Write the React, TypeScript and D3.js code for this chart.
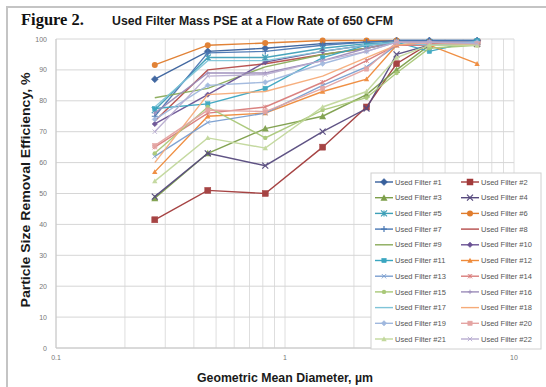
import React from "react";
import * as d3 from "d3";

const diameters = [0.27, 0.46, 0.82, 1.46, 2.27, 3.07, 4.27, 6.9];

const seriesNames = Array.from({ length: 22 }, (_, i) => `Used Filter #${i + 1}`);

const f1 = [87, 96, 97, 98.5, 99, 99.5, 99.5, 99.5];
const f2 = [41.5, 51, 50, 65, 78, 92, 98.5, 99];
const f3 = [48.5, 63, 71, 75, 82, 90, 98, 98.5];
const f4 = [49, 63, 59, 70, 77.5, 95, 98, 98.5];
const f5 = [77, 94, 94, 97, 98.5, 99, 99, 99];
const f6 = [91.6, 98, 98.7, 99.5, 99.5, 99.5, 99, 99];
const f7 = [75, 95.5, 96, 98, 99, 99.5, 99.5, 99.5];
const f8 = [73.5, 90, 92, 95, 97, 99, 99, 99];
const f9 = [81, 84, 91, 95, 97, 99, 99, 99];
const f10 = [72.5, 82, 92.5, 96, 98, 99, 99, 99];
const f11 = [77.5, 79, 84, 94, 98, 99, 96, 99.5];
const f12 = [57, 75, 76, 83, 87, 98, 98, 92];
const f13 = [62, 73, 76, 85, 91, 98, 98, 98.5];
const f14 = [65, 76, 78, 86, 93, 98, 98, 98];
const f15 = [63, 78, 68, 77, 81, 89, 97, 98];
const f16 = [76, 89, 89, 93, 97, 99, 99, 99];
const f17 = [78, 93, 93, 96, 98, 99, 98, 99];
const f18 = [60, 82, 83, 88, 94, 98, 99, 98];
const f19 = [74, 85, 86, 92, 96, 99, 99, 99];
const f20 = [65.5, 77, 76.5, 84, 90.3, 99, 98.5, 98.4];
const f21 = [54, 68, 64.7, 78, 83, 94, 98, 98];
const f22 = [70, 88, 88.5, 93, 96, 99, 99, 98.5];

const seriesValues = [f1, f2, f3, f4, f5, f6, f7, f8, f9, f10, f11, f12, f13, f14, f15, f16, f17, f18, f19, f20, f21, f22];

const seriesColors = [
  "#38609c", "#a23a3a", "#7d9f4a", "#574a7e", "#3fa0b8", "#e07c2c",
  "#4a78b4", "#b54c4a", "#8aab5a", "#6a5294", "#3aa6c0", "#ef8a3a",
  "#7b9fd0", "#d97c7a", "#a9c878", "#9c8cba", "#7fc4d8", "#f6ab78",
  "#a0b8de", "#e4a4a2", "#c2d89c", "#b8acd0",
];

const markerCycle = ["diamond", "square", "triangle", "x", "star", "circle", "plus", "none", "none"];

const yTicks = [0, 10, 20, 30, 40, 50, 60, 70, 80, 90, 100];
const xTickLabels = [0.1, 1, 10];

function Marker({ kind, x, y, color, small }: { kind: string; x: number; y: number; color: string; small?: boolean }) {
  const s = small ? 2.2 : 3;
  const sw = small ? 0.9 : 1.2;
  switch (kind) {
    case "diamond":
      return <path d={`M${x},${y - s - 0.5}L${x + s + 0.5},${y}L${x},${y + s + 0.5}L${x - s - 0.5},${y}Z`} fill={color} stroke={color} strokeWidth={0.5} />;
    case "square":
      return <rect x={x - s} y={y - s} width={2 * s} height={2 * s} fill={color} stroke={color} strokeWidth={0.5} />;
    case "triangle":
      return <path d={`M${x},${y - s - 0.5}L${x + s + 0.5},${y + s}L${x - s - 0.5},${y + s}Z`} fill={color} />;
    case "x":
      return <path d={`M${x - s},${y - s}L${x + s},${y + s}M${x - s},${y + s}L${x + s},${y - s}`} stroke={color} strokeWidth={sw} fill="none" />;
    case "star":
      return <path d={`M${x - s},${y - s}L${x + s},${y + s}M${x - s},${y + s}L${x + s},${y - s}M${x},${y - s}L${x},${y + s}`} stroke={color} strokeWidth={sw} fill="none" />;
    case "circle":
      return <circle cx={x} cy={y} r={s} fill={color} />;
    case "plus":
      return <path d={`M${x - s},${y}L${x + s},${y}M${x},${y - s}L${x},${y + s}`} stroke={color} strokeWidth={sw} fill="none" />;
    default:
      return null;
  }
}

export default function App() {
  const W = 546, H = 387;
  const x = d3.scaleLog().domain([0.1, 10]).range([56, 514]);
  const y = d3.scaleLinear().domain([0, 100]).range([348, 39]);

  const minorX: number[] = [];
  for (let d = 1; d <= 10; d++) minorX.push(d / 10);
  for (let d = 2; d <= 10; d++) minorX.push(d);

  const line = d3
    .line<number>()
    .x((_, i) => x(diameters[i]))
    .y((v) => y(v));

  const legX = 371, legY = 173, legW = 170, legH = 176;
  const rowH = 15.7;

  return (
    <svg width={W} height={H} style={{ position: "absolute", left: 0, top: 0, background: "#fff" }} fontFamily="Liberation Sans, Arial, sans-serif">
      <rect x={0} y={0} width={W} height={H} fill="#fff" />
      <line x1={6} y1={7} x2={W} y2={7} stroke="#c4c4c4" strokeWidth={2} />
      <line x1={7} y1={6} x2={7} y2={H} stroke="#c4c4c4" strokeWidth={2} />

      <text x={21} y={25} fontFamily="Liberation Serif, Times New Roman, serif" fontWeight="bold" fontSize={16.5} fill="#111">Figure 2.</text>
      <text x={112} y={25} fontWeight="bold" fontSize={12} fill="#1a1a1a" textLength={281} lengthAdjust="spacingAndGlyphs">Used Filter Mass PSE at a Flow Rate of 650 CFM</text>

      {minorX.map((d, i) => (
        <line key={"gx" + i} x1={x(d)} x2={x(d)} y1={y(100)} y2={y(0)} stroke="#dedede" strokeWidth={1} />
      ))}
      {yTicks.map((t) => (
        <line key={"gy" + t} x1={x(0.1)} x2={x(10)} y1={y(t)} y2={y(t)} stroke="#d6d6d6" strokeWidth={1} />
      ))}
      <line x1={x(0.1)} x2={x(0.1)} y1={y(100)} y2={y(0)} stroke="#c8c8c8" strokeWidth={1} />
      <line x1={x(0.1)} x2={x(10)} y1={y(0)} y2={y(0)} stroke="#c8c8c8" strokeWidth={1} />

      {yTicks.map((t) => (
        <text key={"yt" + t} x={47} y={y(t) + 2.5} textAnchor="end" fontSize={7} fill="#777">{t}</text>
      ))}
      {xTickLabels.map((t) => (
        <text key={"xt" + t} x={x(t)} y={360} textAnchor="middle" fontSize={7} fill="#777">{t}</text>
      ))}

      <text transform={`translate(30,190) rotate(-90)`} textAnchor="middle" fontWeight="bold" fontSize={13} fill="#1a1a1a" textLength={235} lengthAdjust="spacingAndGlyphs">Particle Size Removal Efficiency, %</text>
      <text x={285} y={382} textAnchor="middle" fontWeight="bold" fontSize={12} fill="#1a1a1a" textLength={176} lengthAdjust="spacingAndGlyphs">Geometric Mean Diameter, µm</text>

      {seriesValues.map((vals, si) => (
        <g key={"s" + si} opacity={0.95}>
          <path d={line(vals) || ""} fill="none" stroke={seriesColors[si]} strokeWidth={1.4} />
          {vals.map((v, i) => (
            <Marker key={i} kind={markerCycle[si % 9]} x={x(diameters[i])} y={y(v)} color={seriesColors[si]} small={si >= 9} />
          ))}
        </g>
      ))}

      <rect x={legX} y={legY} width={legW} height={legH} fill="#fff" stroke="#d0d0d0" strokeWidth={1} />
      {seriesNames.map((name, si) => {
        const col = si % 2;
        const row = Math.floor(si / 2);
        const lx = col === 0 ? 375 : 461;
        const ly = 182 + row * rowH;
        return (
          <g key={"l" + si}>
            <line x1={lx} x2={lx + 18} y1={ly} y2={ly} stroke={seriesColors[si]} strokeWidth={1.4} />
            <Marker kind={markerCycle[si % 9]} x={lx + 9} y={ly} color={seriesColors[si]} small={si >= 9} />
            <text x={lx + 20} y={ly + 2.6} fontSize={7.5} fill="#555">{name}</text>
          </g>
        );
      })}
    </svg>
  );
}
